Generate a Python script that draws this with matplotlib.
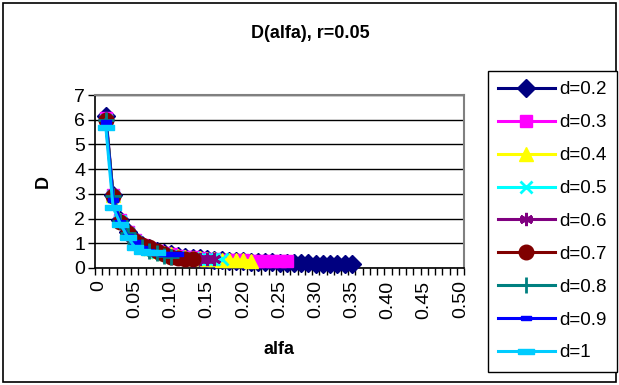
import matplotlib
matplotlib.use("Agg")
import matplotlib.pyplot as plt
import numpy as np
from matplotlib.patches import Rectangle

plt.rcParams['font.family'] = ['Liberation Sans', 'DejaVu Sans']

alfa = [round(0.01 * i, 2) for i in range(51)]
tick_labels = ["0", "0.05", "0.10", "0.15", "0.20", "0.25", "0.30", "0.35", "0.40", "0.45", "0.50"]

d02 = [6.15, 2.95, 1.95, 1.45, 1.15, 0.95, 0.80, 0.70, 0.62, 0.55, 0.50, 0.46, 0.42, 0.39, 0.36,
       0.34, 0.32, 0.30, 0.29, 0.27, 0.26, 0.25, 0.24, 0.23, 0.22, 0.21, 0.20, 0.19, 0.19, 0.18,
       0.18, 0.17, 0.17, 0.16, 0.16]
d03 = [6.05, 2.95, 1.95, 1.45, 1.15, 0.95, 0.80, 0.70, 0.62, 0.56, 0.50, 0.46, 0.43, 0.40, 0.38,
       0.36, 0.34, 0.33, 0.32, 0.31, 0.30, 0.30, 0.29, 0.29, 0.29, 0.28]
d04 = [6.0, 2.95, 1.95, 1.45, 1.12, 0.92, 0.80, 0.70, 0.60, 0.55, 0.50, 0.46, 0.42, 0.40, 0.37,
       0.35, 0.34, 0.33, 0.32, 0.31, 0.30]
d05 = [6.0, 2.9, 1.9, 1.4, 1.1, 0.9, 0.75, 0.65, 0.56, 0.50, 0.45, 0.42, 0.40, 0.38, 0.36, 0.35, 0.35]
d06 = [6.0, 2.9, 1.9, 1.4, 1.1, 0.9, 0.75, 0.65, 0.57, 0.50, 0.45, 0.42, 0.40, 0.38, 0.37, 0.36]
d07 = [6.0, 2.9, 1.85, 1.4, 1.1, 0.95, 0.85, 0.70, 0.55, 0.45, 0.40, 0.37, 0.35]
d08 = [6.0, 2.9, 1.9, 1.4, 1.0, 0.85, 0.70, 0.60, 0.50, 0.45]
d09 = [5.9, 2.75, 1.85, 1.3, 1.05, 0.80, 0.70, 0.62, 0.58, 0.55, 0.55]
d10 = [5.7, 2.45, 1.8, 1.25, 0.85, 0.68, 0.65, 0.65]

labels = ["d=0.2", "d=0.3", "d=0.4", "d=0.5", "d=0.6", "d=0.7", "d=0.8", "d=0.9", "d=1"]
series = [d02, d03, d04, d05, d06, d07, d08, d09, d10]
colors = ["#000080", "#FF00FF", "#FFFF00", "#00FFFF", "#800080", "#800000", "#008080", "#0000FF", "#00CCFF"]
short_bar = [(-1, -0.45), (1, -0.45), (1, 0.45), (-1, 0.45), (-1, -0.45)]
long_bar = [(-1, -0.3), (1, -0.3), (1, 0.3), (-1, 0.3), (-1, -0.3)]
markers = ["D", "s", "^", "x", (6, 2, 0), "o", "+", short_bar, long_bar]
msizes = [9.5, 8.5, 9.5, 9, 9.5, 10.5, 11, 7, 12]
mew = [1, 1, 1, 2, 2, 1, 2, 1, 1]

W, H = 619, 385
fig = plt.figure(figsize=(W / 100, H / 100), dpi=100)
ax = fig.add_axes([95 / W, 1 - 268 / H, (464 - 95) / W, (268 - 95) / H])

for vals, lab, c, m, ms, mw in zip(series, labels, colors, markers, msizes, mew):
    x = np.arange(1, len(vals) + 1)
    ax.plot(x, vals, color=c, lw=2.2, marker=m, ms=ms, mfc=c, mec=c, mew=mw, label=lab,
            clip_on=False, zorder=3)

ax.set_xlim(-0.5, 50.5)
ax.set_ylim(0, 7)
ax.set_yticks(range(8))
ax.set_yticklabels([str(i) for i in range(8)], fontsize=14)
ax.set_xticks(np.arange(0, 51, 5))
ax.set_xticklabels(tick_labels, rotation=90, fontsize=14)
ax.set_xticks(np.arange(-0.5, 51, 1), minor=True)
ax.tick_params(axis='x', which='major', length=0, pad=9)
ax.tick_params(axis='x', which='minor', length=5, direction='out', width=1, color='black')
ax.tick_params(axis='y', length=5, direction='out', width=1, pad=2)
ax.grid(axis='y', color='black', lw=1, zorder=1)
ax.set_axisbelow(True)
ax.spines['top'].set_color('#808080')
ax.spines['right'].set_color('#808080')
ax.spines['top'].set_linewidth(1.5)
ax.spines['right'].set_linewidth(1.5)
ax.spines['left'].set_linewidth(1.2)
ax.spines['bottom'].set_linewidth(1.2)

ax.set_xlabel("alfa", fontsize=13, fontweight='bold', labelpad=16)
ax.set_ylabel("D", fontsize=13, fontweight='bold', labelpad=16)

fig.text(310 / W, 1 - 33 / H, "D(alfa), r=0.05", ha='center', va='center', fontsize=13,
         fontweight='bold')

leg = fig.legend(loc='upper left', bbox_to_anchor=(488 / W, 1 - 71 / H), fontsize=13.5,
                 frameon=True, fancybox=False, edgecolor='black', framealpha=1,
                 labelspacing=0.84, handlelength=3.0, handletextpad=0.25, borderpad=0.55,
                 borderaxespad=0)
leg.get_frame().set_linewidth(1)

fig.patches.append(Rectangle((3 / W, 3 / H), 1 - 6 / W, 1 - 6 / H, transform=fig.transFigure,
                             fill=False, edgecolor='black', lw=1.2))

fig.savefig("out.png", dpi=100)
